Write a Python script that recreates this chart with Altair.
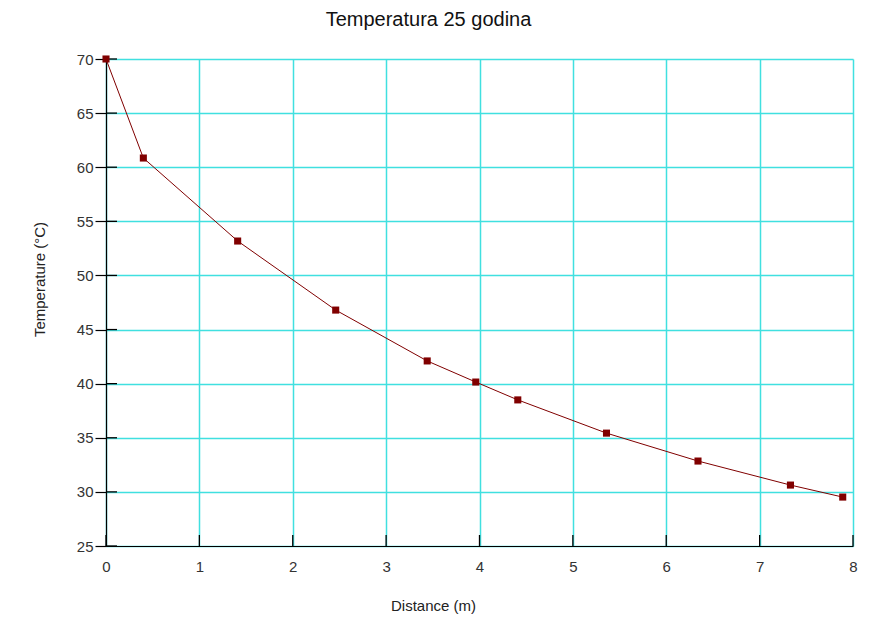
import altair as alt
import pandas as pd

distance = [0.0, 0.40, 1.41, 2.46, 3.44, 3.96, 4.41, 5.36, 6.34, 7.33, 7.89]
temperature = [70.0, 60.85, 53.18, 46.8, 42.1, 40.15, 38.5, 35.43, 32.85, 30.63, 29.52]
x_ticks = [0, 1, 2, 3, 4, 5, 6, 7, 8]
y_ticks = [25, 30, 35, 40, 45, 50, 55, 60, 65, 70]

df = pd.DataFrame({"d": distance, "t": temperature})
dfx = pd.DataFrame({"v": x_ticks})
dfy = pd.DataFrame({"v": y_ticks})

FONT = "Liberation Sans"
GRID = "#40E0E0"
RED = "#800000"

xs = alt.Scale(domain=[0, 8], nice=False, zero=False)
ys = alt.Scale(domain=[25, 70], nice=False, zero=False)

base = alt.Chart(df)
line = base.mark_line(color=RED, strokeWidth=1).encode(
    x=alt.X("d:Q", scale=xs, axis=alt.Axis(
        title="Distance (m)", values=x_ticks, format="d", grid=True,
        gridColor=GRID, gridWidth=1.5, ticks=False, labelPadding=13,
        labelFlush=False, labelFont=FONT, labelFontSize=15,
        labelColor="#333333", titleFont=FONT, titleFontSize=15,
        titleFontWeight="normal", titleColor="#222222",
        titleX=327, titleY=59, titleBaseline="middle", titleAlign="center",
        domainColor="#000000", domainWidth=1.2)),
    y=alt.Y("t:Q", scale=ys, axis=alt.Axis(
        title="Temperature (°C)", values=y_ticks, format="d", grid=True,
        gridColor=GRID, gridWidth=1.5, tickSize=11, tickColor="#000000",
        tickWidth=1.2, labelPadding=2, labelFlush=False, labelFont=FONT,
        labelFontSize=15, labelColor="#333333",
        titleFont=FONT, titleFontSize=15, titleFontWeight="normal",
        titleColor="#222222", titleX=-67, titleY=220, titleAngle=-90,
        titleBaseline="middle", titleAlign="center",
        domainColor="#000000", domainWidth=1.2)),
)
points = base.mark_square(color=RED, size=50, opacity=1).encode(
    x=alt.X("d:Q", scale=xs), y=alt.Y("t:Q", scale=ys))

yt = alt.Chart(dfy).mark_rule(color="#000000", strokeWidth=1.3).encode(
    y=alt.Y("v:Q", scale=ys), x=alt.value(0), x2=alt.value(11))
xt = alt.Chart(dfx).mark_rule(color="#000000", strokeWidth=1.3).encode(
    x=alt.X("v:Q", scale=xs), y=alt.value(476), y2=alt.value(487))

chart = alt.layer(line, yt, xt, points).properties(
    width=747, height=487,
    title=alt.TitleParams("Temperatura 25 godina", font=FONT, fontSize=20,
                          fontWeight="normal", color="#111111",
                          anchor="middle", dx=-51, offset=22),
    autosize=alt.AutoSizeParams(type="none"),
    padding={"left": 98, "top": 51, "right": 16, "bottom": 70},
).configure_view(stroke=None)

chart.save("out.html", embed_options={"renderer": "svg", "actions": False})
